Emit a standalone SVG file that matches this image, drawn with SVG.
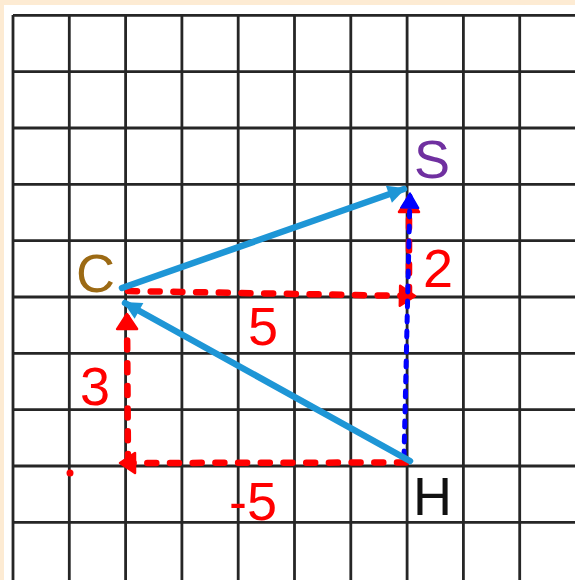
<svg xmlns="http://www.w3.org/2000/svg" width="575" height="580" viewBox="0 0 575 580">
<style>
.grid line{stroke:#262626;stroke-width:2.8}
.rd{fill:none;stroke:#ff0000;stroke-width:6.5;stroke-linecap:round;stroke-dasharray:9 13.7}
.bd{fill:none;stroke:#0000ff;stroke-width:5;stroke-linecap:round;stroke-dasharray:6 9}
.bl{fill:none;stroke:#1e96d6;stroke-width:6.5;stroke-linecap:round}
text{font-family:"Liberation Sans",Arial,sans-serif;font-size:54px}
.red{fill:#ff0000}
</style>
<defs>
<marker id="ar" markerUnits="userSpaceOnUse" markerWidth="26" markerHeight="26" viewBox="0 0 26 26" refX="17" refY="13" orient="auto">
<path d="M4,3 L19,13 L4,23 Z" fill="#ff0000" stroke="#ff0000" stroke-width="2.5" stroke-linejoin="round"/>
</marker>
<marker id="ab" markerUnits="userSpaceOnUse" markerWidth="26" markerHeight="26" viewBox="0 0 26 26" refX="18" refY="13" orient="auto">
<path d="M2,4 L20,13 L2,22 Z" fill="#1e96d6"/>
</marker>
<marker id="abd" markerUnits="userSpaceOnUse" markerWidth="26" markerHeight="26" viewBox="0 0 26 26" refX="17" refY="13" orient="auto">
<path d="M4,4 L19,13 L4,22 Z" fill="#0000ff" stroke="#0000ff" stroke-width="1.5" stroke-linejoin="round"/>
</marker>
</defs>
<rect x="0" y="0" width="575" height="580" fill="#fdebd3"/>
<rect x="4" y="5" width="571" height="575" fill="#ffffff"/>
<g id="grid" class="grid">
<line x1="13" y1="15" x2="13" y2="580"/>
<line x1="69.3" y1="15" x2="69.3" y2="580"/>
<line x1="125.6" y1="15" x2="125.6" y2="580"/>
<line x1="181.9" y1="15" x2="181.9" y2="580"/>
<line x1="238.2" y1="15" x2="238.2" y2="580"/>
<line x1="294.5" y1="15" x2="294.5" y2="580"/>
<line x1="350.8" y1="15" x2="350.8" y2="580"/>
<line x1="407.1" y1="15" x2="407.1" y2="580"/>
<line x1="463.4" y1="15" x2="463.4" y2="580"/>
<line x1="519.7" y1="15" x2="519.7" y2="580"/>
<line x1="13" y1="15.3" x2="575" y2="15.3"/>
<line x1="13" y1="71.7" x2="575" y2="71.7"/>
<line x1="13" y1="128" x2="575" y2="128"/>
<line x1="13" y1="184.4" x2="575" y2="184.4"/>
<line x1="13" y1="240.7" x2="575" y2="240.7"/>
<line x1="13" y1="297" x2="575" y2="297"/>
<line x1="13" y1="353.4" x2="575" y2="353.4"/>
<line x1="13" y1="409.7" x2="575" y2="409.7"/>
<line x1="13" y1="466" x2="575" y2="466"/>
<line x1="13" y1="522.4" x2="575" y2="522.4"/>
</g>
<g id="connectors">
<line id="dx-5" class="rd" x1="406" y1="462.5" x2="122" y2="463" marker-end="url(#ar)"/>
<line id="dy3" class="rd" x1="128" y1="463" x2="127" y2="316" marker-end="url(#ar)"/>
<line id="dx5" class="rd" x1="128" y1="291" x2="413" y2="296" marker-end="url(#ar)"/>
<line id="dy2" class="rd" x1="409" y1="296" x2="409" y2="199" marker-end="url(#ar)"/>
<line id="HS" class="bd" x1="404" y1="457" x2="410" y2="195" marker-end="url(#abd)"/>
<line id="CS" class="bl" x1="122" y1="288" x2="404" y2="189" marker-end="url(#ab)"/>
<line id="HC" class="bl" x1="410" y1="461" x2="125" y2="303" marker-end="url(#ab)"/>
</g>
<circle id="dot" cx="70" cy="473" r="3.5" fill="#ff0000"/>
<g id="S"><text x="414" y="178" fill="#7030a0">S</text></g>
<g id="C"><text x="76" y="292" fill="#9c6a14">C</text></g>
<g id="H"><text x="413" y="515" fill="#111111">H</text></g>
<g id="labels">
<text class="red" x="423" y="287">2</text>
<text class="red" x="248" y="345">5</text>
<text class="red" x="80" y="405">3</text>
<text class="red" x="229" y="520">-5</text>
</g>
</svg>
